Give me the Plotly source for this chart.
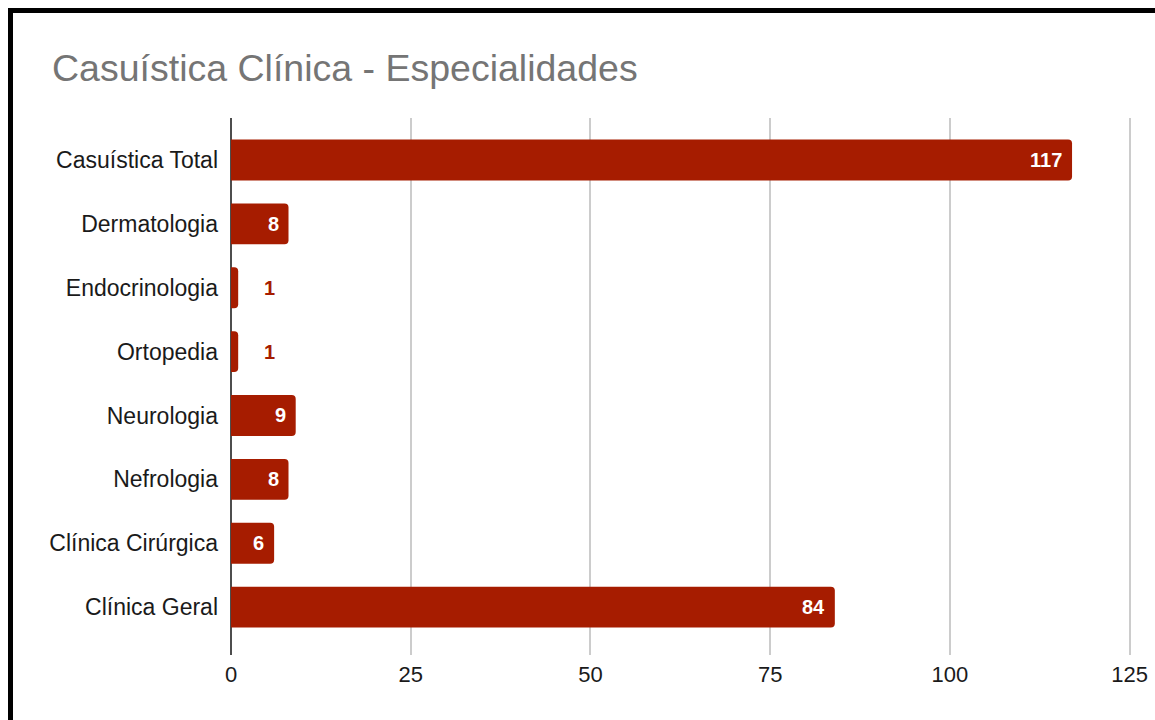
import plotly.graph_objects as go

categories = ["Casuística Total", "Dermatologia", "Endocrinologia", "Ortopedia",
              "Neurologia", "Nefrologia", "Clínica Cirúrgica", "Clínica Geral"]
values = [117, 8, 1, 1, 9, 8, 6, 84]
x_ticks = [0, 25, 50, 75, 100, 125]

BAR = "#a61c00"
FONT = "Liberation Sans, Arial, sans-serif"

W, H = 1155, 720
L, R, T, B = 231, 24, 118, 65
PW, PH = W - L - R, H - T - B

fig = go.Figure()
fig.add_trace(go.Bar(
    x=values, y=categories, orientation="h",
    marker=dict(color=BAR, cornerradius=4, line=dict(width=0)),
    hoverinfo="x+y", showlegend=False,
))

# value labels
for c, v in zip(categories, values):
    if v >= 5:
        fig.add_annotation(x=v, y=c, text=f"<b>{v}</b>", showarrow=False,
                           xanchor="right", xshift=-8,
                           font=dict(family=FONT, size=20, color="white"))
    else:
        fig.add_annotation(x=v, y=c, text=f"<b>{v}</b>", showarrow=False,
                           xanchor="left", xshift=24,
                           font=dict(family=FONT, size=20, color=BAR))

# page border (left and top black rules of the screenshot)
def px_x(p):
    return (p - L) / PW

def px_y(p):
    return (H - B - p) / PH

fig.add_shape(type="line", xref="paper", yref="paper",
              x0=px_x(10.5), x1=px_x(10.5), y0=px_y(8), y1=px_y(725),
              line=dict(color="black", width=5))
fig.add_shape(type="line", xref="paper", yref="paper",
              x0=px_x(8), x1=px_x(1170), y0=px_y(10.5), y1=px_y(10.5),
              line=dict(color="black", width=5))

fig.update_layout(
    width=W, height=H,
    margin=dict(l=L, r=R, t=T, b=B, pad=0, autoexpand=False),
    paper_bgcolor="white", plot_bgcolor="white",
    bargap=0.36,
    title=dict(text="Casuística Clínica - Especialidades",
               x=52 / W, xanchor="left", xref="container",
               y=1 - 55 / H, yanchor="top", yref="container",
               font=dict(family=FONT, size=37.5, color="#757575")),
    xaxis=dict(range=[0, 125.2], tickvals=x_ticks, ticktext=[str(t) for t in x_ticks],
               showgrid=True, gridcolor="#cccccc", gridwidth=2,
               zeroline=True, zerolinecolor="#4d4d4d", zerolinewidth=2,
               showline=False, ticks="", ticklabelstandoff=4, automargin=False,
               tickfont=dict(family=FONT, size=22, color="#1a1a1a"),
               fixedrange=True),
    yaxis=dict(categoryorder="array", categoryarray=categories,
               range=[7.75, -0.657], automargin=False,
               showgrid=False, zeroline=False, showline=False, ticks="",
               ticklabelstandoff=12,
               tickfont=dict(family=FONT, size=23, color="#1a1a1a"),
               fixedrange=True),
    font=dict(family=FONT),
)

fig.write_html("out.html", config={"displayModeBar": False},
               post_script="document.body.style.margin='0';document.body.style.overflow='hidden';")
